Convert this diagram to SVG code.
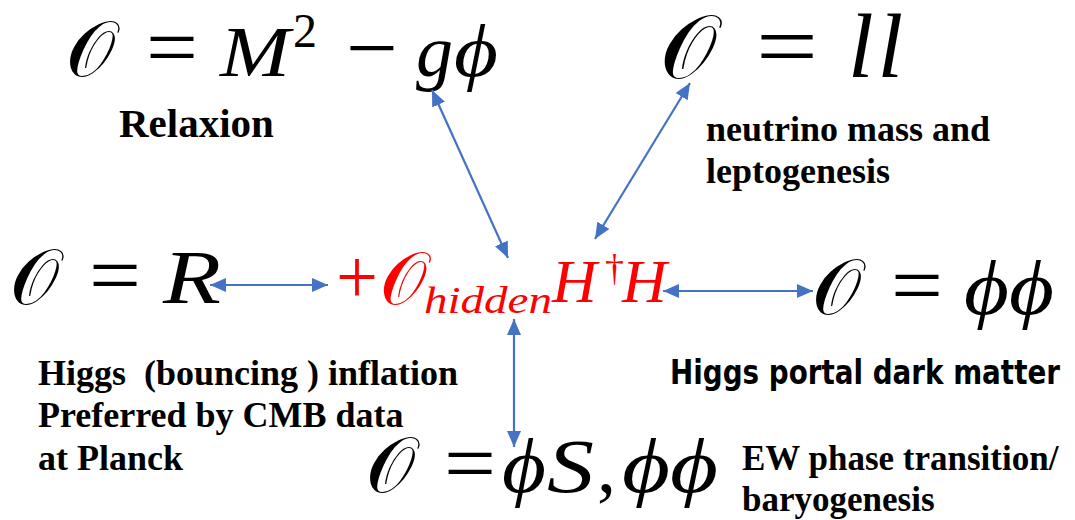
<svg xmlns="http://www.w3.org/2000/svg" width="1075" height="520" viewBox="0 0 1075 520">
<defs>
<style>
.cal{font-family:"DejaVu Serif",serif;}
.op{font-family:"Liberation Serif",serif;}
.it{font-family:"Liberation Serif",serif;font-style:italic;}
.up{font-family:"Liberation Serif",serif;}
.lbl{font-family:"Liberation Serif",serif;font-weight:bold;font-size:36px;fill:#000;}
.red{fill:#ff0000;}
.conn line{stroke:#4472C4;stroke-width:2.2;fill:none;marker-start:url(#ah);marker-end:url(#ah);}
</style>
<marker id="ah" viewBox="0 0 16 14" refX="16" refY="7" markerWidth="16" markerHeight="14" orient="auto-start-reverse" markerUnits="userSpaceOnUse">
<path d="M0,0 L16,7 L0,14 Z" fill="#4472C4"/>
</marker>
</defs>
<rect width="1075" height="520" fill="#fff"/>

<g id="relaxion">
<text class="cal" x="66" y="76" font-size="78">𝒪</text>
<text class="op" x="146" y="76" font-size="84" textLength="52" lengthAdjust="spacingAndGlyphs">=</text>
<text class="it" x="220" y="76" font-size="72" textLength="70" lengthAdjust="spacingAndGlyphs">M</text>
<text class="up" x="293" y="47" font-size="48">2</text>
<text class="op" x="346" y="76" font-size="84" textLength="52" lengthAdjust="spacingAndGlyphs">−</text>
<text class="it" x="416" y="76" font-size="74">g</text>
<text class="it" x="454" y="76" font-size="74" textLength="44" lengthAdjust="spacingAndGlyphs">ϕ</text>
<text class="lbl" x="119" y="137" style="font-size:41px">Relaxion</text>
</g>

<g id="neutrino">
<text class="cal" x="660" y="78" font-size="90">𝒪</text>
<text class="op" x="756" y="77" font-size="90" textLength="62" lengthAdjust="spacingAndGlyphs">=</text>
<text class="it" x="848" y="77" font-size="92" letter-spacing="4">ll</text>
<text class="lbl" x="706" y="141">neutrino mass and</text>
<text class="lbl" x="706" y="183">leptogenesis</text>
</g>

<g id="gravity">
<text class="cal" x="10" y="304" font-size="78">𝒪</text>
<text class="op" x="89" y="304" font-size="84" textLength="52" lengthAdjust="spacingAndGlyphs">=</text>
<text class="it" x="163" y="303" font-size="76" textLength="58" lengthAdjust="spacingAndGlyphs">R</text>
<text class="lbl" x="38" y="385">Higgs&#160; (bouncing ) inflation</text>
<text class="lbl" x="38" y="427">Preferred by CMB data</text>
<text class="lbl" x="38" y="470">at Planck</text>
</g>

<g id="portal">
<text class="op red" x="336" y="303" font-size="78" textLength="42" lengthAdjust="spacingAndGlyphs">+</text>
<text class="cal red" x="380" y="304" font-size="74">𝒪</text>
<text class="it red" x="424" y="313" font-size="38" textLength="128" lengthAdjust="spacingAndGlyphs">hidden</text>
<text class="it red" x="552" y="302" font-size="62">H</text>
<text class="up red" x="605" y="281" font-size="38">†</text>
<text class="it red" x="622" y="302" font-size="62">H</text>
</g>

<g id="darkmatter">
<text class="cal" x="812" y="314" font-size="78">𝒪</text>
<text class="op" x="891" y="314" font-size="84" textLength="52" lengthAdjust="spacingAndGlyphs">=</text>
<text class="it" x="964" y="314" font-size="76" textLength="90" lengthAdjust="spacingAndGlyphs">ϕϕ</text>
<text x="670" y="384" font-family="DejaVu Sans Condensed, DejaVu Sans, sans-serif" font-weight="bold" font-size="34" font-stretch="condensed" textLength="390" lengthAdjust="spacingAndGlyphs">Higgs portal dark matter</text>
</g>

<g id="ewpt">
<text class="cal" x="366" y="492" font-size="78">𝒪</text>
<text class="op" x="444" y="492" font-size="84" textLength="52" lengthAdjust="spacingAndGlyphs">=</text>
<text class="it" x="502" y="492" font-size="76" textLength="44" lengthAdjust="spacingAndGlyphs">ϕ</text>
<text class="it" x="547" y="492" font-size="76" textLength="47" lengthAdjust="spacingAndGlyphs">S</text>
<text class="up" x="597" y="492" font-size="76">,</text>
<text class="it" x="622" y="492" font-size="76" textLength="96" lengthAdjust="spacingAndGlyphs">ϕϕ</text>
<text class="lbl" x="742" y="470" style="font-size:35px">EW phase transition/</text>
<text class="lbl" x="742" y="511" style="font-size:35px">baryogenesis</text>
</g>

<g id="connectors" class="conn">
<line x1="508" y1="258" x2="432" y2="90"/>
<line x1="595" y1="239" x2="690" y2="83"/>
<line x1="210" y1="285" x2="328" y2="285"/>
<line x1="663" y1="291" x2="813" y2="291"/>
<line x1="514" y1="319" x2="514" y2="447"/>
</g>
</svg>
